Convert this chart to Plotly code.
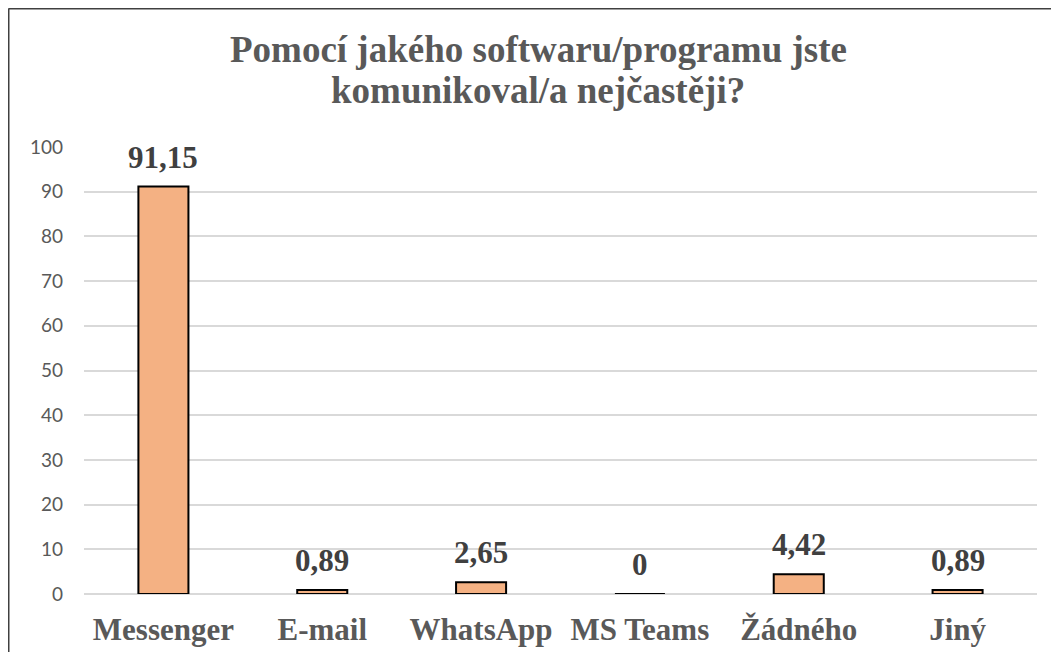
import plotly.graph_objects as go

categories = ["Messenger", "E-mail", "WhatsApp", "MS Teams", "Žádného", "Jiný"]
values = [91.15, 0.89, 2.65, 0, 4.42, 0.89]
labels = ["91,15", "0,89", "2,65", "0", "4,42", "0,89"]
title_lines = ["Pomocí jakého softwaru/programu jste", "komunikoval/a nejčastěji?"]
y_ticks = list(range(0, 101, 10))

OFF = 8  # page body margin
W, H = 1059 - 2 * OFF, 660 - 2 * OFF
L, R, T, B = 84 - OFF, W - (1037 - OFF), 147 - OFF, H - (594 - OFF)
pw, ph = W - L - R, H - T - B

def px_x(x):
    return (x - OFF - L) / pw

def px_y(y):
    return (H - B - (y - OFF)) / ph

serif = "Liberation Serif, Times New Roman, serif"

fig = go.Figure()
fig.add_trace(go.Bar(
    x=categories, y=values,
    marker=dict(color="#F4B183", line=dict(color="#000000", width=2)),
    width=0.315,
    hoverinfo="skip",
))

annotations = []
for c, v, t in zip(categories, values, labels):
    annotations.append(dict(
        x=c, y=v, xref="x", yref="y", text="<b>" + t + "</b>", showarrow=False,
        yanchor="bottom", yshift=10,
        font=dict(family=serif, size=31, color="#404040"),
    ))
for i, line in enumerate(title_lines):
    annotations.append(dict(
        x=px_x(538), y=px_y(49 + i * 41), xref="paper", yref="paper",
        text="<b>" + line + "</b>", showarrow=False,
        xanchor="center", yanchor="middle",
        font=dict(family=serif, size=37, color="#595959"),
    ))

frame = dict(color="#404040", width=2)
fig.update_layout(
    width=W, height=H,
    margin=dict(l=L, r=R, t=T, b=B),
    paper_bgcolor="white", plot_bgcolor="white",
    showlegend=False,
    annotations=annotations,
    shapes=[
        dict(type="line", xref="paper", yref="paper",
             x0=px_x(8.5), x1=px_x(8.5), y0=px_y(700), y1=px_y(8.5), line=frame),
        dict(type="line", xref="paper", yref="paper",
             x0=px_x(8.5), x1=px_x(1100), y0=px_y(8.5), y1=px_y(8.5), line=frame),
    ],
)
fig.update_xaxes(
    tickfont=dict(family=serif, size=31, color="#595959"),
    tickprefix="<b>", ticksuffix="</b>",
    showgrid=False, showline=False, ticks="", ticklabelstandoff=14,
    automargin=False,
)
fig.update_yaxes(
    range=[0, 100], tickvals=y_ticks,
    tickfont=dict(family="Lato", size=19, color="#595959"),
    showgrid=True, gridcolor="#D9D9D9", gridwidth=2,
    zeroline=True, zerolinecolor="#D9D9D9", zerolinewidth=2,
    showline=False, ticks="", ticklabelstandoff=20, automargin=False,
)

fig.write_html("out.html")
